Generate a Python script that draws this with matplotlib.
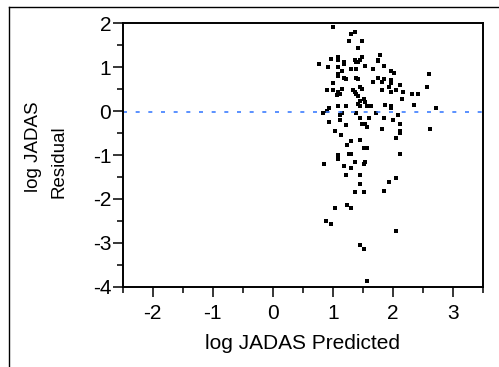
import matplotlib
matplotlib.use("Agg")
import matplotlib.pyplot as plt
from matplotlib.lines import Line2D
from matplotlib.ticker import MultipleLocator

plt.rcParams['font.family'] = ['Liberation Sans', 'DejaVu Sans']
plt.rcParams['axes.unicode_minus'] = False

# log JADAS predicted vs residual
predicted = [
    1.00, 1.30, 1.36, 1.27, 1.48, 1.42, 1.78, 1.48, 0.97, 1.09,
    1.09, 1.18, 1.18, 1.36, 1.39, 1.42, 1.45, 1.75, 1.75, 0.76,
    0.91, 1.09, 1.54, 1.84, 1.30, 1.39, 1.15, 1.66, 1.96, 2.02,
    2.59, 1.09, 1.09, 1.18, 1.21, 1.39, 1.42, 1.75, 1.84, 1.81,
    1.66, 1.96, 1.96, 1.93, 2.11, 1.00, 2.56, 0.90, 1.00, 1.15,
    1.09, 1.12, 1.06, 1.33, 1.36, 1.39, 1.45, 1.48, 1.81, 1.96,
    2.05, 2.17, 2.32, 2.41, 1.42, 2.14, 1.45, 1.51, 1.54, 1.42,
    1.45, 1.57, 1.60, 1.63, 1.09, 1.21, 1.87, 1.96, 1.96, 2.35,
    2.71, 0.94, 0.90, 0.84, 1.15, 1.12, 1.39, 1.72, 2.08, 0.94,
    1.12, 1.45, 1.60, 1.84, 1.99, 1.48, 1.54, 1.57, 1.21, 2.11,
    1.81, 1.04, 2.11, 2.11, 2.62, 1.14, 2.05, 1.45, 1.30, 1.24,
    1.51, 1.57, 1.09, 1.09, 1.27, 1.30, 2.11, 0.85, 1.36, 1.51,
    1.54, 1.18, 1.30, 1.21, 1.45, 1.45, 1.93, 2.05, 1.36, 1.51,
    1.84, 1.24, 1.30, 1.03, 0.88, 0.97, 2.05, 1.45, 1.51, 1.57,
]
residual = [
    1.92, 1.76, 1.80, 1.60, 1.60, 1.43, 1.28, 1.24, 1.19, 1.24,
    1.16, 1.12, 1.08, 1.16, 1.12, 1.12, 1.16, 1.16, 1.13, 1.08,
    1.00, 1.00, 1.03, 1.03, 0.96, 0.96, 0.91, 0.96, 0.91, 0.87,
    0.84, 0.84, 0.79, 0.75, 0.72, 0.75, 0.72, 0.75, 0.72, 0.67,
    0.67, 0.71, 0.63, 0.56, 0.59, 0.63, 0.56, 0.47, 0.47, 0.51,
    0.44, 0.40, 0.36, 0.47, 0.44, 0.40, 0.56, 0.51, 0.47, 0.44,
    0.47, 0.44, 0.40, 0.40, 0.34, 0.28, 0.24, 0.28, 0.20, 0.16,
    0.12, 0.12, 0.12, 0.12, 0.12, 0.12, 0.15, 0.12, 0.08, 0.15,
    0.07, 0.07, 0.00, -0.04, -0.04, -0.08, -0.04, -0.04, -0.08, -0.24,
    -0.20, -0.16, -0.16, -0.16, -0.20, -0.29, -0.29, -0.36, -0.32, -0.29,
    -0.41, -0.45, -0.45, -0.50, -0.41, -0.54, -0.61, -0.65, -0.69, -0.77,
    -0.85, -0.85, -1.01, -1.09, -0.97, -0.97, -0.97, -1.21, -1.17, -1.21,
    -1.17, -1.25, -1.30, -1.45, -1.45, -1.65, -1.62, -1.53, -1.85, -1.85,
    -1.81, -2.13, -2.21, -2.21, -2.50, -2.57, -2.73, -3.05, -3.14, -3.86,
]
mean_residual = -0.025

fig = plt.figure(figsize=(4.99, 3.67), dpi=100)
ax = fig.add_axes([0.2459, 0.2188, 0.7226, 0.7177])

ax.plot(predicted, residual, linestyle='none', marker='s', markersize=2.3,
        color='black', markeredgewidth=0)
ax.axhline(mean_residual, color='#3d7eff', linewidth=1.2, dashes=(2.4, 5.2))

ax.set_xlim(-2.5, 3.5)
ax.set_ylim(-4, 2)
ax.xaxis.set_major_locator(MultipleLocator(1))
ax.xaxis.set_minor_locator(MultipleLocator(0.5))
ax.yaxis.set_major_locator(MultipleLocator(1))
ax.yaxis.set_minor_locator(MultipleLocator(0.5))

for s in ax.spines.values():
    s.set_linewidth(1.4)
ax.tick_params(which='major', length=7.2, width=1.1, labelsize=15, direction='out')
ax.tick_params(which='minor', length=4.3, width=1.1, direction='out')
ax.tick_params(axis='x', pad=5.5)
ax.tick_params(axis='y', pad=1)

ax.set_xlabel('log JADAS Predicted', fontsize=15, labelpad=7.5)
fig.text(34 / 499, 1 - 147 / 367, 'log JADAS', rotation=90,
         ha='center', va='center', fontsize=13.5)
fig.text(59 / 499, 1 - 162 / 367, 'Residual', rotation=90,
         ha='center', va='center', fontsize=13.5)

# outer frame (left and top edges only visible)
fig.add_artist(Line2D([9 / 499, 9 / 499], [0, 1 - 7 / 367], color='black',
                      linewidth=1.0, transform=fig.transFigure))
fig.add_artist(Line2D([9 / 499, 1], [1 - 7 / 367, 1 - 7 / 367], color='black',
                      linewidth=1.0, transform=fig.transFigure))

fig.savefig('out.png', dpi=100)
